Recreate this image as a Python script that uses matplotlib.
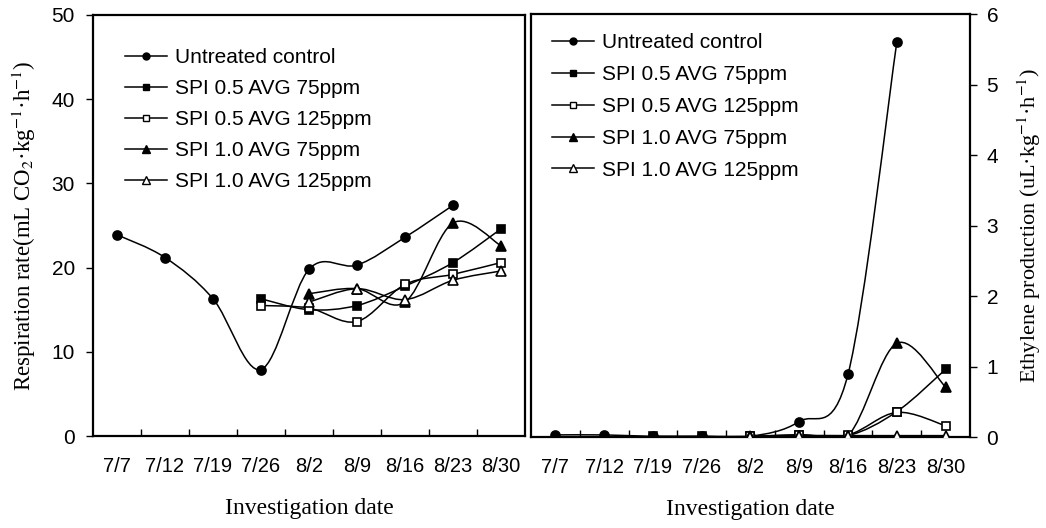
import matplotlib
matplotlib.use('Agg')
import matplotlib.pyplot as plt
import numpy as np
from matplotlib.path import Path
from matplotlib.patches import PathPatch
from matplotlib.lines import Line2D

plt.rcParams['font.family'] = ['Liberation Sans', 'DejaVu Sans']
plt.rcParams['mathtext.fontset'] = 'stix'

# investigation dates (categories)
dates = ['7/7', '7/12', '7/19', '7/26', '8/2', '8/9', '8/16', '8/23', '8/30']
labels = ['Untreated control', 'SPI 0.5 AVG 75ppm', 'SPI 0.5 AVG 125ppm',
          'SPI 1.0 AVG 75ppm', 'SPI 1.0 AVG 125ppm']
nan = np.nan

# respiration rate (mL CO2/kg/h)
resp_control = [23.9, 21.2, 16.3, 7.9, 19.8, 20.3, 23.6, 27.4, nan]
resp_05_75 = [nan, nan, nan, 16.3, 15.0, 15.5, 17.8, 20.6, 24.6]
resp_05_125 = [nan, nan, nan, 15.5, 15.2, 13.6, 18.0, 19.2, 20.6]
resp_10_75 = [nan, nan, nan, nan, 16.9, 17.5, 15.9, 25.3, 22.6]
resp_10_125 = [nan, nan, nan, nan, 15.9, 17.5, 16.2, 18.5, 19.6]

# ethylene production (uL/kg/h)
eth_control = [0.03, 0.03, 0.01, 0.01, 0.01, 0.22, 0.89, 5.6, nan]
eth_05_75 = [nan, nan, 0.01, 0.01, 0.01, 0.03, 0.02, 0.36, 0.96]
eth_05_125 = [nan, nan, nan, nan, 0.01, 0.03, 0.03, 0.35, 0.16]
eth_10_75 = [nan, nan, nan, nan, 0.01, 0.02, 0.02, 1.33, 0.71]
eth_10_125 = [nan, nan, nan, nan, 0.0, 0.02, 0.02, 0.02, 0.02]

styles = [dict(marker='o', mfc='k', ms=6.5),
          dict(marker='s', mfc='k', ms=6),
          dict(marker='s', mfc='white', ms=6),
          dict(marker='^', mfc='k', ms=7),
          dict(marker='^', mfc='white', ms=7)]


def smooth_line(ax, ys):
    # excel-like smoothed line drawn as bezier curves through the points
    x = np.array([i for i, v in enumerate(ys) if not np.isnan(v)], float)
    y = np.array([v for v in ys if not np.isnan(v)], float)
    pts = np.column_stack([x, y])
    n = len(pts)
    verts = [pts[0]]
    codes = [Path.MOVETO]
    for i in range(n - 1):
        p0 = pts[i - 1] if i > 0 else pts[i]
        p1 = pts[i]
        p2 = pts[i + 1]
        p3 = pts[i + 2] if i + 2 < n else pts[i + 1]
        c1 = p1 + (p2 - p0) / 6
        c2 = p2 - (p3 - p1) / 6
        verts += [c1, c2, p2]
        codes += [Path.CURVE4] * 3
    ax.add_patch(PathPatch(Path(verts, codes), fill=False, ec='k', lw=1.1, zorder=2))


def draw(ax, series):
    x = np.arange(len(dates))
    for ys, st in zip(series, styles):
        smooth_line(ax, ys)
        ax.plot(x, ys, linestyle='none', marker=st['marker'], ms=st['ms'],
                mfc=st['mfc'], mec='k', mew=1.2, zorder=3)
    ax.set_xlim(-0.5, len(dates) - 0.5)
    ax.set_xticks(x)
    ax.set_xticklabels(dates)
    ax.set_xticks(np.arange(0.5, len(dates) - 1, 1), minor=True)
    ax.tick_params(axis='x', which='major', length=0, pad=15, labelsize=14.5)
    ax.tick_params(axis='x', which='minor', direction='in', length=5, width=1)
    for s in ax.spines.values():
        s.set_linewidth(1.6)
    handles = [Line2D([], [], color='k', lw=1.1, marker=st['marker'], ms=st['ms'] - 1.5,
                      mfc=st['mfc'], mec='k', mew=1.0) for st in styles]
    return handles


fig = plt.figure(figsize=(10.46, 5.28), dpi=100)
ax1 = fig.add_axes([0.0889, 0.1742, 0.4130, 0.7974])
ax2 = fig.add_axes([0.5076, 0.1723, 0.4197, 0.8011])

h = draw(ax1, [resp_control, resp_05_75, resp_05_125, resp_10_75, resp_10_125])
ax1.set_ylim(0, 50)
ax1.set_yticks(np.arange(0, 51, 10))
ax1.tick_params(axis='y', direction='out', length=5, width=1, pad=8, labelsize=15)
ax1.set_ylabel('Respiration rate(mL CO$_2$·kg$^{-1}$·h$^{-1}$)',
               family='Liberation Serif', fontsize=16.5)
ax1.yaxis.set_label_coords(-0.128, 0.5)
ax1.set_xlabel('Investigation date', family='Liberation Serif', fontsize=17)
ax1.xaxis.set_label_coords(0.5, -0.148)
ax1.legend(h, labels, loc='upper left', bbox_to_anchor=(0.074, 0.922), frameon=False,
           fontsize=15, handlelength=2.0, handletextpad=0.4, labelspacing=0.58,
           borderpad=0, borderaxespad=0)

h = draw(ax2, [eth_control, eth_05_75, eth_05_125, eth_10_75, eth_10_125])
ax2.set_ylim(0, 6)
ax2.set_yticks(np.arange(0, 7, 1))
ax2.yaxis.tick_right()
ax2.yaxis.set_label_position('right')
ax2.tick_params(axis='y', direction='out', length=5, width=1, pad=7, labelsize=15)
ax2.set_ylabel('Ethylene production (uL·kg$^{-1}$·h$^{-1}$)',
               family='Liberation Serif', fontsize=16)
ax2.yaxis.set_label_coords(1.103, 0.5)
ax2.set_xlabel('Investigation date', family='Liberation Serif', fontsize=17)
ax2.xaxis.set_label_coords(0.5, -0.146)
ax2.legend(h, labels, loc='upper left', bbox_to_anchor=(0.048, 0.955), frameon=False,
           fontsize=15, handlelength=2.0, handletextpad=0.4, labelspacing=0.62,
           borderpad=0, borderaxespad=0)

fig.savefig('out.png', dpi=100)
